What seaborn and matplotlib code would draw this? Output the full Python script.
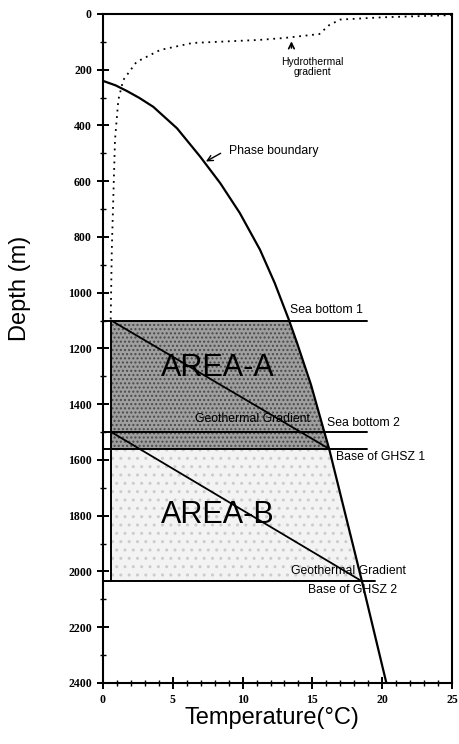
import numpy as np
import pandas as pd
import seaborn as sns
import matplotlib.pyplot as plt
from matplotlib.ticker import MultipleLocator

# phase boundary (temperature degC, depth m)
phase_t = [0.0, 0.9, 1.7, 2.6, 3.6, 5.3, 6.95, 8.4, 9.8, 11.25, 12.3, 13.3, 13.9, 14.9, 15.8, 16.2, 18.55, 20.3]
phase_d = [240, 256, 276, 301, 333, 410, 511, 607, 714, 846, 965, 1095, 1180, 1330, 1490, 1560, 2035, 2400]

# hydrothermal gradient (dotted)
hydro_t = [25.0, 20.0, 17.0, 16.2, 15.5, 13.0, 11.2, 6.4, 4.1, 2.4, 1.45, 1.1, 0.86, 0.63, 0.55]
hydro_d = [4, 12, 20, 40, 72, 86, 93, 104, 129, 172, 237, 308, 451, 846, 1100]

# geothermal gradients
geo1_t = [0.6, 16.2]
geo1_d = [1100, 1560]
geo2_t = [0.6, 18.55]
geo2_d = [1500, 2035]

# horizontal levels: depth, right end temperature
level_names = ["Sea bottom 1", "Sea bottom 2", "Base of GHSZ 1", "Base of GHSZ 2"]
level_depth = [1100, 1500, 1560, 2035]
level_end = [18.9, 18.9, 18.9, 19.5]

left_t = 0.6

sns.set_style("ticks")
plt.rcParams["font.family"] = ["Liberation Sans", "DejaVu Sans"]
plt.rcParams["text.color"] = "black"
plt.rcParams["axes.labelcolor"] = "black"
plt.rcParams["xtick.color"] = "black"
plt.rcParams["ytick.color"] = "black"
plt.rcParams["axes.edgecolor"] = "black"

fig = plt.figure(figsize=(4.59, 7.44), dpi=100)
ax = fig.add_axes([0.2244, 0.082, 0.7603, 0.8992])

# ---------------- shaded areas ---------------- #
dA = np.linspace(1100, 1560, 80)
ax.fill_betweenx(dA, left_t, np.interp(dA, phase_d, phase_t),
                 facecolor="#9f9f9f", edgecolor="#4a4a4a", hatch="....", linewidth=0)
dB = np.linspace(1560, 2035, 80)
ax.fill_betweenx(dB, left_t, np.interp(dB, phase_d, phase_t),
                 facecolor="#f3f3f3", edgecolor="#cccccc", hatch="..", linewidth=0)

# ---------------- curves ---------------- #
sns.lineplot(x=phase_t, y=phase_d, sort=False, estimator=None, color="black",
             linewidth=1.6, ax=ax)
sns.lineplot(x=hydro_t, y=hydro_d, sort=False, estimator=None, color="black",
             linewidth=1.3, linestyle=(0, (1, 2.6)), ax=ax)
sns.lineplot(x=geo1_t, y=geo1_d, sort=False, estimator=None, color="black",
             linewidth=1.3, ax=ax)
sns.lineplot(x=geo2_t, y=geo2_d, sort=False, estimator=None, color="black",
             linewidth=1.3, ax=ax)

for d, e in zip(level_depth, level_end):
    ax.plot([0, e], [d, d], color="black", linewidth=1.4)
ax.plot([left_t, left_t], [1100, 2035], color="black", linewidth=1.4)

# ---------------- labels ---------------- #
small = dict(fontsize=8.8, color="black")
ax.text(13.4, 1082, "Sea bottom 1", ha="left", va="bottom", **small)
ax.text(16.05, 1466, "Sea bottom 2", ha="left", va="center", **small)
ax.text(16.7, 1590, "Base of GHSZ 1", ha="left", va="center", **small)
ax.text(6.6, 1452, "Geothermal Gradient", ha="left", va="center", **small)
ax.text(13.5, 2000, "Geothermal Gradient", ha="left", va="center", **small)
ax.text(14.7, 2066, "Base of GHSZ 2", ha="left", va="center", **small)
ax.text(9.0, 491, "Phase boundary", ha="left", va="center", **small)
ax.text(15.0, 190, "Hydrothermal\ngradient", ha="center", va="center",
        linespacing=0.95, fontsize=7.5, color="black")

ax.annotate("", xy=(7.2, 534), xytext=(8.6, 495),
            arrowprops=dict(arrowstyle="->", color="black", lw=1.0))
ax.annotate("", xy=(13.5, 88), xytext=(13.5, 132),
            arrowprops=dict(arrowstyle="->", color="black", lw=1.2))

ax.text(8.2, 1269, "AREA-A", ha="center", va="center", fontsize=22, color="black")
ax.text(8.2, 1796, "AREA-B", ha="center", va="center", fontsize=22, color="black")

# ---------------- axes ---------------- #
ax.set_xlim(0, 25)
ax.set_ylim(2400, 0)
ax.xaxis.set_major_locator(MultipleLocator(5))
ax.xaxis.set_minor_locator(MultipleLocator(1))
ax.yaxis.set_major_locator(MultipleLocator(200))
ax.yaxis.set_minor_locator(MultipleLocator(100))
ax.tick_params(which="major", direction="inout", length=8, width=1.4,
               labelsize=8.5, pad=4)
ax.tick_params(which="minor", direction="inout", length=5, width=1.0)
for lab in ax.get_xticklabels() + ax.get_yticklabels():
    lab.set_fontfamily("Liberation Serif")
    lab.set_fontweight("bold")
for s in ax.spines.values():
    s.set_linewidth(1.5)
    s.set_visible(True)

ax.set_xlabel("Temperature(°C)", fontsize=17)
ax.set_ylabel("Depth (m)", fontsize=17)
ax.xaxis.set_label_coords(0.485, -0.036)
ax.yaxis.set_label_coords(-0.205, 0.59)

fig.savefig("out.png", dpi=100)
